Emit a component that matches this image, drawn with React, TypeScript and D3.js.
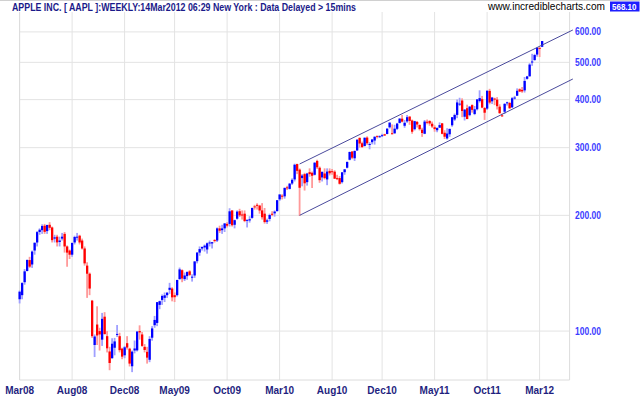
import * as d3 from "d3";

// AAPL weekly bars, week 0 = 10 Mar 2008, last = 12 Mar 2012
const open = [
  121, 124, 134, 143.3, 153, 149, 162, 170, 181, 183,
  188, 182, 189, 186, 174, 176, 170.5, 174, 179, 166,
  162, 158, 170, 175.5, 177, 172, 164, 148, 141, 120,
  92, 104, 100, 95, 109, 97, 88.5, 85, 90.5, 97.9,
  97, 90, 86.5, 93, 90, 81, 89, 89.1, 100, 98,
  91, 88.3, 84.2, 96.1, 103.6, 105, 117, 120.5, 122, 124,
  128, 129, 124, 124, 136.5, 144, 136.5, 139, 143, 138.5,
  139.5, 152, 160, 164, 165, 163, 170, 169, 172.5, 172,
  185, 183, 185, 190, 190, 206, 189, 196, 205, 201,
  202, 194, 194, 197, 211, 213, 212, 206, 202, 192.5,
  195.7, 201.9, 202.4, 205, 220, 225, 224.1, 236.5, 234.3, 242,
  248, 271.9, 263, 250, 256, 244, 259, 258, 255, 277,
  266, 251, 257, 248, 261, 260.5, 259.8, 249.9, 250, 244,
  259, 266, 279, 293, 281.5, 295, 318, 308, 303, 318.6,
  305, 310, 313, 322, 321, 322, 325, 325.6, 338.8, 327,
  326.9, 335.8, 347.9, 356.8, 342, 351, 361.4, 353, 335, 350,
  343.6, 334, 326, 350.3, 352, 346.2, 339, 333, 338, 347,
  328, 317, 325, 343, 355, 365, 390, 397.8, 361, 380,
  364.5, 387, 367, 377.5, 396.4, 401, 380.4, 379, 421.5, 396,
  402.4, 400, 383.5, 364, 372, 392.5, 392, 382, 403, 409.4,
  425.5, 424, 422.7, 453, 460, 499.5, 506.9, 524, 545.4, 548.9,
];
const high = [
  127.5, 134, 145, 153.5, 156, 162, 170, 182, 185, 189.5,
  190, 189, 192, 187, 178, 178, 176, 180, 181, 167,
  163, 170, 177, 180, 178, 174, 166, 151, 142, 120.5,
  98, 116, 102, 111.5, 112, 100, 91, 95.8, 96, 103.7,
  99, 90.5, 91.5, 97, 90.5, 89, 94.5, 100, 103.5, 99.5,
  92.5, 91, 97, 103, 109.5, 119, 120, 124.5, 126, 126.4,
  133.5, 130, 126, 136, 146.3, 144.7, 142, 143, 144, 140.5,
  152, 160.5, 166, 166, 168, 170, 172, 170.5, 173.5, 186,
  188, 189, 191, 192, 208.7, 206, 195, 206, 208, 206,
  206, 195, 199, 209.5, 213, 215, 213, 215.2, 209, 196,
  202, 205, 206, 219, 227, 227, 236, 238.7, 242.8, 249.6,
  272.5, 272.5, 264.8, 256, 258, 258, 265, 260, 275, 279,
  268, 259.7, 265, 265, 265, 264, 262, 255, 253, 259,
  264, 276, 293, 294, 295, 315, 319, 311, 319, 321,
  310, 316, 321, 322, 323, 326, 326, 337, 349, 344.8,
  344, 348, 358, 364.9, 354, 364.8, 361.7, 355, 352.3, 352,
  344.9, 338, 354, 355, 353.5, 350.7, 343, 339, 349, 347.6,
  333, 337, 336, 360, 368, 400.3, 404.5, 403, 377, 388,
  384.5, 388.8, 385, 401, 422.9, 409, 382.6, 422, 426.7, 406.5,
  404.5, 406, 389, 368, 392, 395, 394.6, 406, 409, 427.8,
  427.8, 431.4, 458, 461, 497.5, 526.3, 526.3, 548.2, 547.5, 568.1,
];
const low = [
  118, 121, 132, 143, 146, 146, 158, 166, 178, 179,
  179, 179, 183, 170, 170, 166, 166, 172, 160, 147,
  154, 156, 168, 172, 168, 163, 148, 122, 124, 96,
  85.6, 92, 89, 91.5, 98, 88, 79.1, 84.8, 86.5, 96.5,
  88, 84.5, 85, 89.5, 80.9, 78.2, 87.5, 88.5, 95, 91,
  88, 82.3, 83, 94.4, 102, 103, 114, 117, 119, 122,
  125, 119.5, 119, 123, 136, 134, 135, 136, 139, 134.5,
  137.5, 150, 157, 162, 161, 159, 166, 164, 170, 170.5,
  180, 179, 181, 186, 187, 187, 185, 195, 198, 195,
  192, 186, 191.5, 196, 207, 207, 202, 195, 190.3, 190,
  193, 199, 198.5, 205, 218, 220, 221, 232.8, 233.5, 240,
  245, 256, 199.25, 238, 232, 239, 252, 235.6, 254, 264,
  243, 245, 248, 239.6, 254, 255, 248.7, 247, 240.5, 242,
  255, 265, 278, 280, 277, 294.5, 300, 299.5, 302, 305,
  297, 306, 305.5, 317, 318, 320, 322, 325, 336.4, 325,
  326, 333.4, 346.6, 349, 338, 348, 344, 326, 332.5, 338.5,
  332.5, 320, 325.3, 345, 342, 337.6, 330, 329, 338, 325,
  315.9, 315, 320, 340, 352, 358, 385, 360, 353, 356,
  362, 370, 364.5, 375, 393, 380, 354.2, 376, 388.8, 389.5,
  387, 377, 367, 361, 367, 386, 378, 380.4, 400, 409,
  418.5, 416.7, 417.3, 451, 459, 489.7, 505, 517.2, 516.2, 548,
];
const close = [
  126.6, 133.3, 143, 153.1, 147.1, 161, 169.7, 180.9, 183.5, 187.6,
  181.2, 188.8, 185.6, 172.4, 175.3, 170.1, 172, 176, 166, 160,
  158, 169.5, 175.7, 176, 170, 164, 150, 141, 129, 97,
  96.8, 97.4, 98, 107.6, 98.2, 90.2, 82.6, 92.7, 94, 98.3,
  89.2, 85.8, 90.75, 90.6, 82.3, 88.4, 90.1, 99.7, 99.2, 91.5,
  89.3, 85.3, 95.4, 101.6, 106.9, 118.9, 119.6, 123.4, 123.9, 125.8,
  129.6, 122.4, 122.5, 135.8, 144.7, 137, 139.5, 142.4, 140, 138.5,
  151.75, 160, 163.4, 165.5, 166.8, 169.2, 170, 170.3, 172.2, 185,
  182.4, 184.9, 190.5, 188, 204.9, 188.5, 194.3, 204.5, 199.9, 200.6,
  193.3, 194.7, 195.4, 209, 210.7, 212, 205.9, 197.75, 192.1, 194.1,
  200.4, 201.7, 204.6, 219, 226.6, 224.8, 235.8, 236, 241.8, 247.4,
  270.8, 261.1, 235.9, 253.8, 242.3, 256.9, 256, 253.5, 274.1, 266.7,
  246.9, 259.6, 249.9, 259.9, 257.3, 260.1, 249.1, 249.6, 241.6, 258.8,
  263.4, 275.4, 292.3, 282.5, 294.1, 314.7, 307.5, 301, 318.3, 308,
  306.7, 315, 320.2, 320.6, 321.3, 323.2, 322.6, 336.1, 348.5, 326.7,
  336.1, 346.5, 356.9, 350.6, 348.2, 360, 352, 330, 351.5, 344.6,
  335.1, 327.5, 350.7, 350.1, 346.7, 340.5, 335.2, 337.4, 343.4, 325.9,
  320.3, 326.4, 335.7, 360, 364.9, 393.3, 390.5, 373.6, 377, 356,
  383.6, 376.2, 377.5, 400.5, 403.6, 381.3, 369.8, 422, 392.9, 405,
  400.2, 384.6, 369, 363.6, 389.7, 393.6, 380, 403.3, 405, 421.7,
  419.8, 420.3, 447.3, 459.7, 493.4, 502.6, 522.4, 545.2, 545.2, 568.1,
];

const xTickWeeks = [0, 21, 42, 62, 83, 104, 125, 145, 166, 187, 208];
const xTickLabels = ["Mar08", "Aug08", "Dec08", "May09", "Oct09", "Mar10", "Aug10", "Dec10", "May11", "Oct11", "Mar12"];
const yTicks = [100, 200, 300, 400, 500, 600];

// trend channel drawn from the May 2010 low
const channelWeeks = [112, 221.3];
const channelUpper = [272, 607];
const channelLower = [200, 452.6];

const title = "APPLE INC. [ AAPL ]:WEEKLY:14Mar2012 06:29 New York  : Data Delayed > 15mins";
const lastPrice = "568.10";

const font = "'Liberation Sans', Arial, sans-serif";

export default function App() {
  const width = 640;
  const height = 400;
  const plot = { top: 12, bottom: 380 };

  const x = d3.scaleLinear().domain([0, 220]).range([19.6, 569.6]);
  const y = d3.scaleLog().domain([74.6, 676]).range([plot.bottom, plot.top]);
  const left = x(0);
  const right = x(220);

  const line = d3.line<number>()
    .x((_, i) => x(channelWeeks[i]))
    .y(d => y(d));

  const grid = "#e3e3e3";

  return (
    <svg width={width} height={height}
      style={{ position: "absolute", left: 0, top: 0, background: "#fff" }}
      fontFamily={font}>
      <rect width={width} height={height} fill="#fff" />
      <line x1={0} x2={width} y1={0.5} y2={0.5} stroke="#d0d0d0" />

      {/* grid */}
      {xTickWeeks.map(w => (
        <line key={w} x1={x(w)} x2={x(w)} y1={plot.top} y2={plot.bottom} stroke={grid} />
      ))}
      {yTicks.map(t => (
        <line key={t} x1={left} x2={right} y1={y(t)} y2={y(t)} stroke={grid} />
      ))}
      <line x1={left} x2={right} y1={plot.bottom} y2={plot.bottom} stroke="#dcdcdc" />
      <line x1={right} x2={right} y1={plot.top} y2={plot.bottom} stroke="#dcdcdc" />
      <line x1={left} x2={left} y1={plot.top} y2={plot.bottom} stroke="#dcdcdc" />

      {/* candles */}
      {close.map((c, i) => {
        const o = open[i];
        const up = c >= o;
        const cx = x(i);
        const yTop = y(Math.max(o, c));
        const yBot = y(Math.min(o, c));
        return (
          <g key={i}>
            <rect x={cx - 0.9} y={y(high[i])} width={1.8} height={Math.max(1, y(low[i]) - y(high[i]))}
              fill={up ? "#a0a0ff" : "#ff9a9a"} />
            <rect x={cx - 1.1} y={yTop} width={2.3} height={Math.max(1, yBot - yTop)}
              fill={up ? "#0000ff" : "#ff0000"} />
          </g>
        );
      })}

      {/* channel */}
      <path d={line(channelUpper) ?? ""} fill="none" stroke="#4a4a9c" strokeWidth={1} />
      <path d={line(channelLower) ?? ""} fill="none" stroke="#4a4a9c" strokeWidth={1} />

      {/* y labels */}
      {yTicks.map(t => (
        <text key={t} x={575} y={y(t)} dy="0.35em" fontSize={10} fontWeight={700}
          fill="#3c3cff" textLength={26} lengthAdjust="spacingAndGlyphs">
          {d3.format(".2f")(t)}
        </text>
      ))}

      {/* x labels */}
      {xTickWeeks.map((w, k) => (
        <text key={w} x={x(w)} y={394} textAnchor="middle" fontSize={10} fontWeight={700}
          fill="#1f1f80">
          {xTickLabels[k]}
        </text>
      ))}

      {/* header */}
      <rect x={10} y={1} width={350} height={11} fill="#fff" />
      <text x={12} y={10.5} fontSize={10} fontWeight={700} fill="#1a1a8a"
        textLength={344} lengthAdjust="spacingAndGlyphs">{title}</text>
      <text x={488} y={9.5} fontSize={10.5} fill="#000"
        textLength={117} lengthAdjust="spacingAndGlyphs">www.incrediblecharts.com</text>
      <rect x={610} y={1.5} width={29.5} height={10} fill="#1e1eff" />
      <text x={612} y={10} fontSize={9.5} fontWeight={700} fill="#fff"
        textLength={24.5} lengthAdjust="spacingAndGlyphs">{lastPrice}</text>
    </svg>
  );
}
